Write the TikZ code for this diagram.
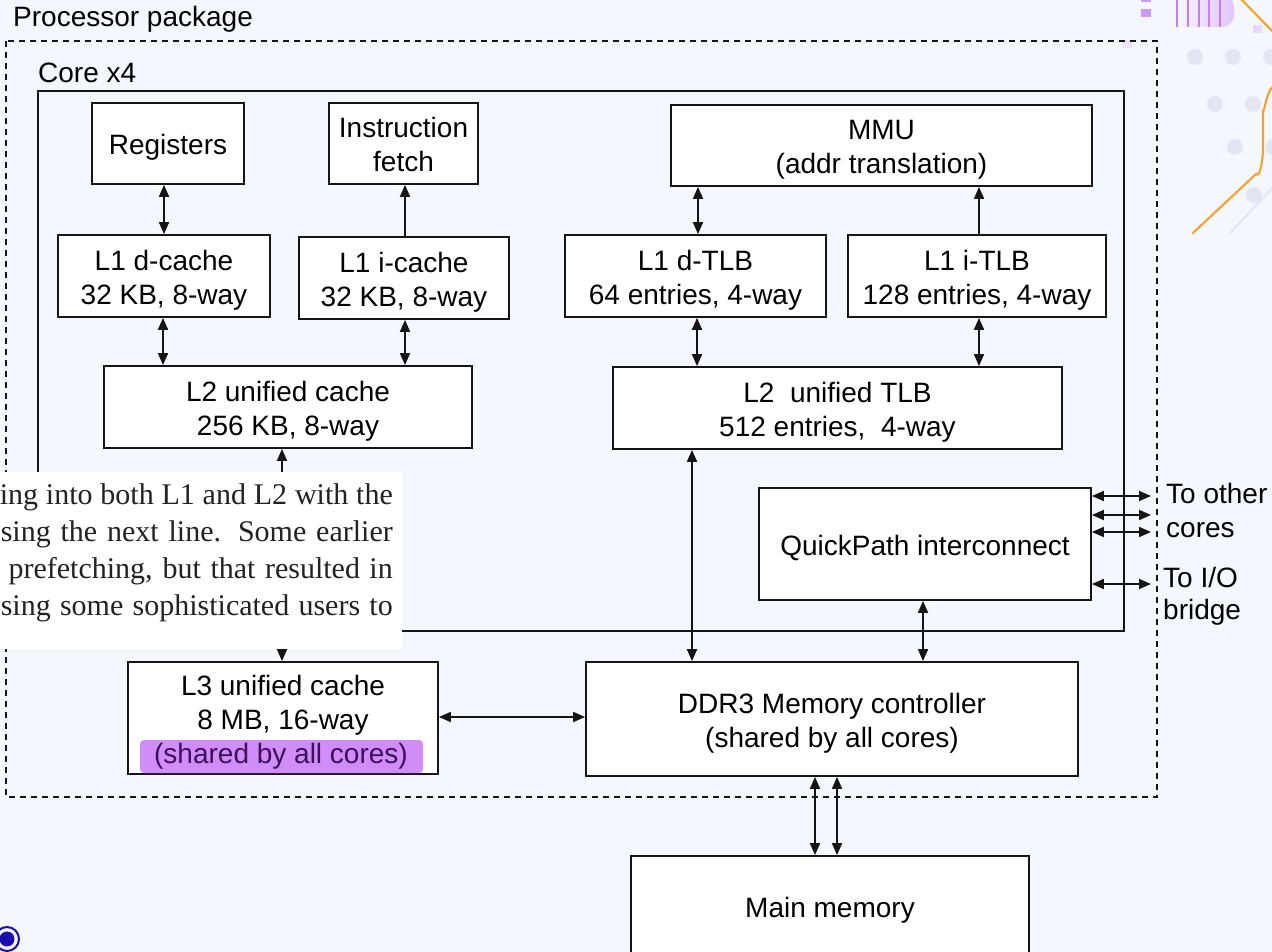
\documentclass[tikz,border=0pt]{standalone}
\usepackage{fontspec}
\setmainfont{Liberation Sans}
\newfontfamily\serifpara{Liberation Serif}
\usetikzlibrary{arrows.meta,calc,shadings}
\definecolor{bgc}{HTML}{F4F7FE}
\definecolor{linec}{HTML}{151515}
\definecolor{hlc}{HTML}{D08CF7}
\definecolor{hltext}{HTML}{3D0F5C}
\definecolor{dotc}{HTML}{E3E5F3}
\definecolor{orangec}{HTML}{F0A534}
\definecolor{purplec}{HTML}{C47EF2}
\definecolor{lightpur}{HTML}{E2C4FA}
\definecolor{bluec}{HTML}{1A0DA8}
\definecolor{paratext}{HTML}{222222}
\newcommand\boxfont{\fontsize{28}{34}\selectfont}
\newcommand\parafont{\serifpara\fontsize{30}{37}\selectfont}
\newcommand\tx[1]{\raisebox{-4.7pt}[\height][\depth]{\begin{tabular}{@{}c@{}}#1\end{tabular}}}
\tikzset{
  box/.style={draw=linec, line width=1.8pt, fill=white, inner sep=0pt, font=\boxfont},
  lbl/.style={inner sep=0pt, font=\boxfont, text=black},
  bidir/.style={draw=linec, line width=1.8pt, {Triangle[length=12pt,width=10pt]}-{Triangle[length=12pt,width=10pt]}},
  updir/.style={draw=linec, line width=1.8pt, -{Triangle[length=12pt,width=10pt]}},
  paraline/.style={inner sep=0pt, font=\parafont, text=paratext, anchor=base east},
}
\begin{document}
\begin{tikzpicture}[x=1pt,y=-1pt]
\useasboundingbox (0,0) rectangle (1272,952);
\clip (0,0) rectangle (1272,952);
\fill[bgc] (0,0) rectangle (1272,952);

% decorations top right
\foreach \cx/\cy in {1195/57,1233/57,1271/57,1215/104,1253/104,1235/147,1273/147,1254/195}
  \fill[dotc] (\cx,\cy) circle (8pt);
\draw[dotc, line width=2pt] (1230,233) -- (1275,185);
\draw[orangec, line width=2.2pt, line cap=round] (1193,233) -- (1256,174) to[out=-45,in=90] (1263,155) -- (1263,110) to[out=-90,in=135] (1275,88);
\draw[orangec, line width=2.2pt] (1240,-2) -- (1275,34);
\shade[left color=bgc, right color=lightpur] (1177,-5) -- (1177,27) {[rounded corners=12pt] -- (1234,27) -- (1234,-5)} -- cycle;
\foreach \lx in {1177,1188,1199,1209,1220}
  \draw[purplec, line width=1.1pt] (\lx,-2) -- (\lx,27);
\fill[purplec!80] (1141,9) rectangle (1151,17);
\fill[purplec!80] (1141,-2) rectangle (1151,2);
\fill[lightpur!70] (1253,25) rectangle (1262,33);
\fill[lightpur!50] (1122,40) rectangle (1132,48);

% outer containers
\draw[linec, line width=1.5pt, dash pattern=on 6pt off 5pt] (6,41) rectangle (1157,797);
\node[lbl, anchor=base west] (pkglabel) at (13,27) {Processor package};
\draw[linec, line width=1.8pt] (38,91) rectangle (1124,631);
\node[lbl, anchor=base west] (corelabel) at (38,83) {Core x4};

% boxes
\node[box, minimum width=152pt, minimum height=81pt] (reg) at (168,143.5) {\tx{Registers}};
\node[box, minimum width=149pt, minimum height=81pt] (ifetch) at (403.5,143.5) {\tx{Instruction\\fetch}};
\node[box, minimum width=421pt, minimum height=81pt] (mmu) at (881.5,145.5) {\tx{MMU\\(addr translation)}};
\node[box, minimum width=212pt, minimum height=82pt] (l1d) at (164,276) {\tx{L1 d-cache\\32 KB, 8-way}};
\node[box, minimum width=210pt, minimum height=82pt] (l1i) at (404,278) {\tx{L1 i-cache\\32 KB, 8-way}};
\node[box, minimum width=261pt, minimum height=82pt] (dtlb) at (695.5,276) {\tx{L1 d-TLB\\64 entries, 4-way}};
\node[box, minimum width=258pt, minimum height=82pt] (itlb) at (977,276) {\tx{L1 i-TLB\\128 entries, 4-way}};
\node[box, minimum width=368pt, minimum height=82pt] (l2) at (288,407) {\tx{L2 unified cache\\256 KB, 8-way}};
\node[box, minimum width=449pt, minimum height=82pt] (l2tlb) at (837.5,408) {\tx{L2\ \ unified TLB\\512 entries,\ \ 4-way}};
\node[box, minimum width=332pt, minimum height=112pt] (qpi) at (925,544) {\tx{QuickPath\ interconnect}};
\node[box, minimum width=310pt, minimum height=112pt] (l3) at (283,718) {\tx{L3 unified cache\\8 MB, 16-way\\\phantom{(shared by all cores)}}};
\node[box, minimum width=492pt, minimum height=114pt] (ddr) at (832,719) {\tx{DDR3 Memory controller\\(shared by all cores)}};
\node[box, minimum width=398pt, minimum height=100pt] (mem) at (830,906) {\tx{Main memory}};

% highlight in L3
\fill[hlc, rounded corners=4pt] (140,740) rectangle (423,773);
\node[lbl, text=hltext] (l3note) at (281,756.5) {(shared by all cores)};

% connectors
\draw[bidir] (l1d.north) -- (l1d.north |- reg.south);
\draw[updir] ([xshift=1pt]l1i.north) -- ([xshift=1pt]l1i.north |- ifetch.south);
\draw[bidir] ([xshift=-1pt]l1d.south) -- ([xshift=-1pt]l1d.south |- l2.north);
\draw[bidir] ([xshift=1pt]l1i.south) -- ([xshift=1pt]l1i.south |- l2.north);
\draw[bidir] ([xshift=2.5pt]dtlb.north) -- ([xshift=2.5pt]dtlb.north |- mmu.south);
\draw[updir] ([xshift=2pt]itlb.north) -- ([xshift=2pt]itlb.north |- mmu.south);
\draw[bidir] ([xshift=1.5pt]dtlb.south) -- ([xshift=1.5pt]dtlb.south |- l2tlb.north);
\draw[bidir] ([xshift=2pt]itlb.south) -- ([xshift=2pt]itlb.south |- l2tlb.north);
\draw[bidir] ([xshift=-145.5pt]l2tlb.south) -- ([xshift=-145.5pt]l2tlb.south |- ddr.north);
\draw[bidir] ([xshift=-2pt]qpi.south) -- ([xshift=-2pt]qpi.south |- ddr.north);
\draw[bidir] ([xshift=-1pt]l3.north) -- ([xshift=-1pt]l3.north |- l2.south);
\draw[bidir] ([yshift=1pt]l3.east) -- ([yshift=1pt]l3.east -| ddr.west);
\draw[bidir] ([xshift=-17pt]ddr.south) -- ([xshift=-17pt]ddr.south |- mem.north);
\draw[bidir] ([xshift=5pt]ddr.south) -- ([xshift=5pt]ddr.south |- mem.north);

\coordinate (oc1) at (1151,496);
\coordinate (oc2) at (1151,515);
\coordinate (oc3) at (1151,532);
\coordinate (oc4) at (1151,584);
\foreach \c in {oc1,oc2,oc3,oc4}
  \draw[bidir] (qpi.east |- \c) -- (\c);

\node[lbl, anchor=base west] (to1) at (1166,503) {To other};
\node[lbl, anchor=base west] (to2) at (1166,537) {cores};
\node[lbl, anchor=base west] (io1) at (1163,587) {To I/O};
\node[lbl, anchor=base west] (io2) at (1163,619) {bridge};

% overlaid text excerpt
\fill[white] (-2,472) rectangle (402,649);
\node[paraline] (p1) at (393,504) {\makebox[393pt][s]{ing into both L1 and L2 with the}};
\node[paraline] (p2) at (393,541) {\makebox[392pt][s]{sing the next line. Some earlier}};
\node[paraline] (p3) at (393,578) {\makebox[407pt][s]{e prefetching, but that resulted in}};
\node[paraline] (p4) at (393,615) {\makebox[392pt][s]{sing some sophisticated users to}};

% bottom-left marker
\draw[bluec, line width=2pt] (7,939) circle (12pt);
\fill[bluec] (7,939) circle (7.5pt);
\end{tikzpicture}
\end{document}
